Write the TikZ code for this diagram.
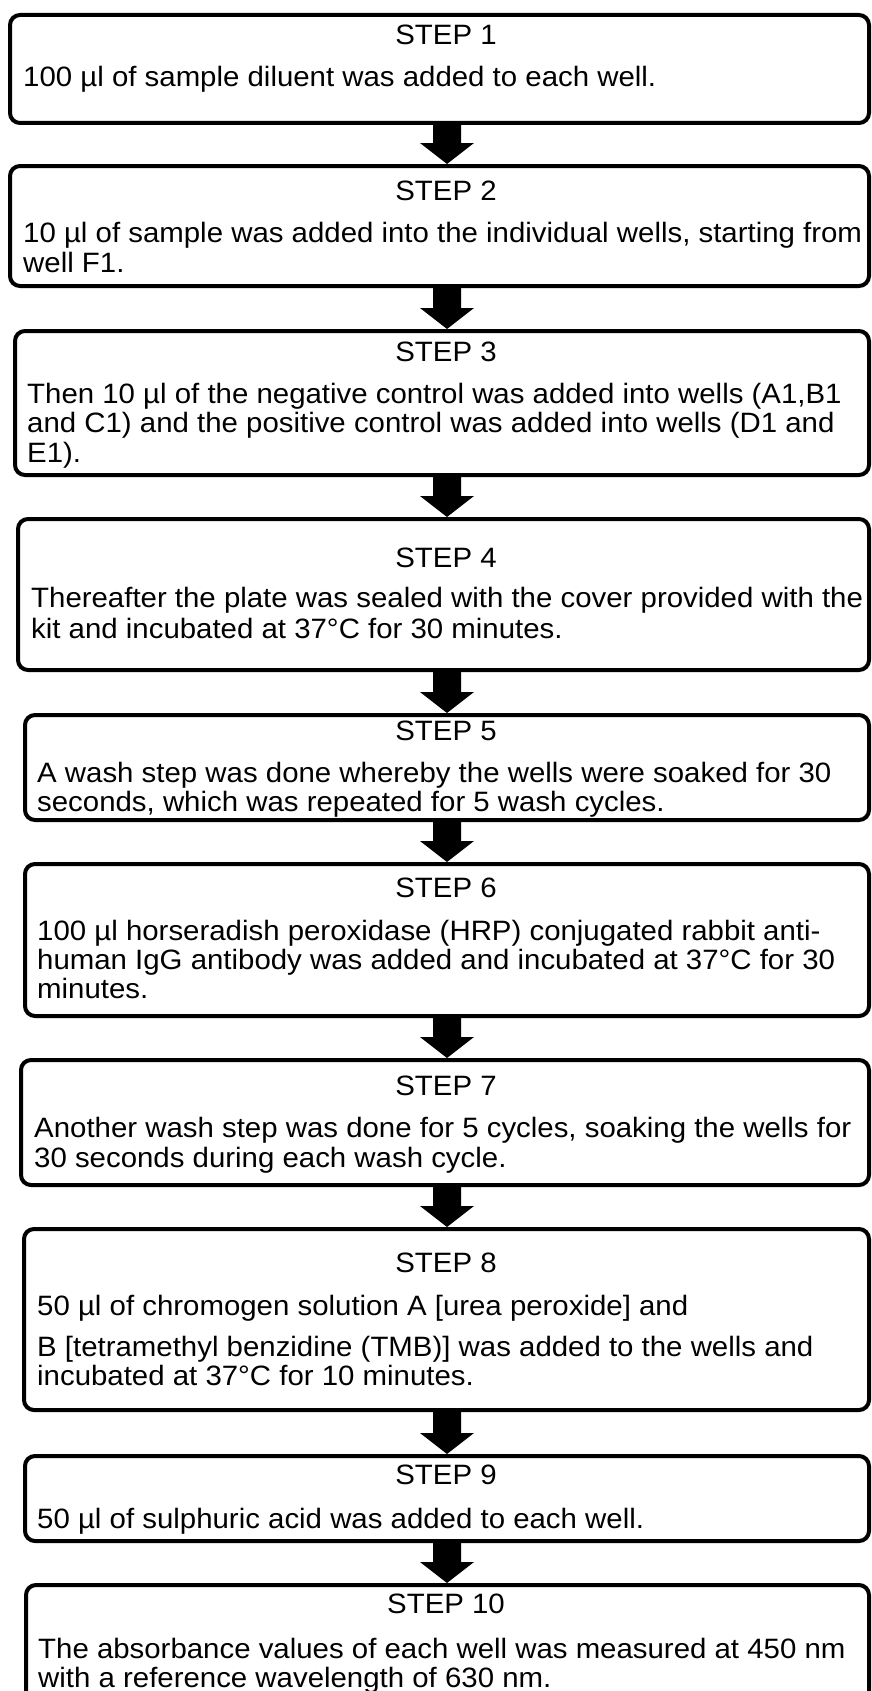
\documentclass[tikz,border=0pt]{standalone}
\usepackage{fontspec}
\setmainfont[FakeStretch=1.05]{Liberation Sans}
\usetikzlibrary{calc}
\tikzset{
  stepbox/.style={draw=black, line width=4pt, rounded corners=10pt, fill=white,
    anchor=north west, inner sep=0pt},
  steplabel/.style={anchor=base, inner sep=0pt, font=\fontsize{28}{30}\selectfont},
  bodytext/.style={anchor=base west, inner sep=0pt, font=\fontsize{28}{30}\selectfont},
  arrowfill/.style={fill=black}
}
\newcommand{\flowarrow}[2]{%
  \fill[arrowfill] (sl |- #1.south) -- (sr |- #1.south)
    -- ($(sr |- #2.north)+(0,-21)$) -- ($(hr |- #2.north)+(0,-21)$)
    -- (tip |- #2.north)
    -- ($(hl |- #2.north)+(0,-21)$) -- ($(sl |- #2.north)+(0,-21)$) -- cycle;}
\begin{document}
\begin{tikzpicture}[x=1pt,y=-1pt]
\useasboundingbox (0,0) rectangle (871,1691);
\clip (0,0) rectangle (871,1691);
\fill[white] (0,0) rectangle (871,1691);
\coordinate (sl) at (433,0);
\coordinate (sr) at (461,0);
\coordinate (hl) at (420,0);
\coordinate (hr) at (474,0);
\coordinate (tip) at (447,0);

% boxes
\node[stepbox, minimum width=859pt, minimum height=108pt] (b1) at (8,13) {};
\node[stepbox, minimum width=859pt, minimum height=120pt] (b2) at (8,164) {};
\node[stepbox, minimum width=854pt, minimum height=144pt] (b3) at (13,329) {};
\node[stepbox, minimum width=851pt, minimum height=151pt] (b4) at (16,517) {};
\node[stepbox, minimum width=844pt, minimum height=105pt] (b5) at (23,713) {};
\node[stepbox, minimum width=844pt, minimum height=152pt] (b6) at (23,862) {};
\node[stepbox, minimum width=848pt, minimum height=125pt] (b7) at (19,1058) {};
\node[stepbox, minimum width=845pt, minimum height=181pt] (b8) at (22,1227) {};
\node[stepbox, minimum width=844pt, minimum height=85pt] (b9) at (23,1454) {};
\node[stepbox, minimum width=843pt, minimum height=145pt] (b10) at (24,1583) {};

% arrows
\flowarrow{b1}{b2}
\flowarrow{b2}{b3}
\flowarrow{b3}{b4}
\flowarrow{b4}{b5}
\flowarrow{b5}{b6}
\flowarrow{b6}{b7}
\flowarrow{b7}{b8}
\flowarrow{b8}{b9}
\flowarrow{b9}{b10}

% step 1
\node[steplabel] (s1) at (446,45) {STEP 1};
\node[bodytext] (t1a) at (23,87) {100 µl of sample diluent was added to each well.};
% step 2
\node[steplabel] (s2) at (446,200) {STEP 2};
\node[bodytext] (t2a) at (23,242) {10 µl of sample was added into the individual wells, starting from};
\node[bodytext] (t2b) at (23,272) {well F1.};
% step 3
\node[steplabel] (s3) at (446,361) {STEP 3};
\node[bodytext] (t3a) at (27,403) {Then 10 µl of the negative control was added into wells (A1,B1};
\node[bodytext] (t3b) at (27,432) {and C1) and the positive control was added into wells (D1 and};
\node[bodytext] (t3c) at (27,462) {E1).};
% step 4
\node[steplabel] (s4) at (446,567) {STEP 4};
\node[bodytext] (t4a) at (31,607) {Thereafter the plate was sealed with the cover provided with the};
\node[bodytext] (t4b) at (31,638) {kit and incubated at 37°C for 30 minutes.};
% step 5
\node[steplabel] (s5) at (446,740) {STEP 5};
\node[bodytext] (t5a) at (37,782) {A wash step was done whereby the wells were soaked for 30};
\node[bodytext] (t5b) at (37,811) {seconds, which was repeated for 5 wash cycles.};
% step 6
\node[steplabel] (s6) at (446,897) {STEP 6};
\node[bodytext] (t6a) at (37,940) {100 µl horseradish peroxidase (HRP) conjugated rabbit anti-};
\node[bodytext] (t6b) at (37,969) {human IgG antibody was added and incubated at 37°C for 30};
\node[bodytext] (t6c) at (37,998) {minutes.};
% step 7
\node[steplabel] (s7) at (446,1095) {STEP 7};
\node[bodytext] (t7a) at (34,1137) {Another wash step was done for 5 cycles, soaking the wells for};
\node[bodytext] (t7b) at (34,1167) {30 seconds during each wash cycle.};
% step 8
\node[steplabel] (s8) at (446,1272) {STEP 8};
\node[bodytext] (t8a) at (37,1315) {50 µl of chromogen solution A [urea peroxide] and};
\node[bodytext] (t8b) at (37,1356) {B [tetramethyl benzidine (TMB)] was added to the wells and};
\node[bodytext] (t8c) at (37,1385) {incubated at 37°C for 10 minutes.};
% step 9
\node[steplabel] (s9) at (446,1484) {STEP 9};
\node[bodytext] (t9a) at (37,1528) {50 µl of sulphuric acid was added to each well.};
% step 10
\node[steplabel] (s10) at (446,1613) {STEP 10};
\node[bodytext] (t10a) at (38,1658) {The absorbance values of each well was measured at 450 nm};
\node[bodytext] (t10b) at (38,1687) {with a reference wavelength of 630 nm.};
\end{tikzpicture}
\end{document}
